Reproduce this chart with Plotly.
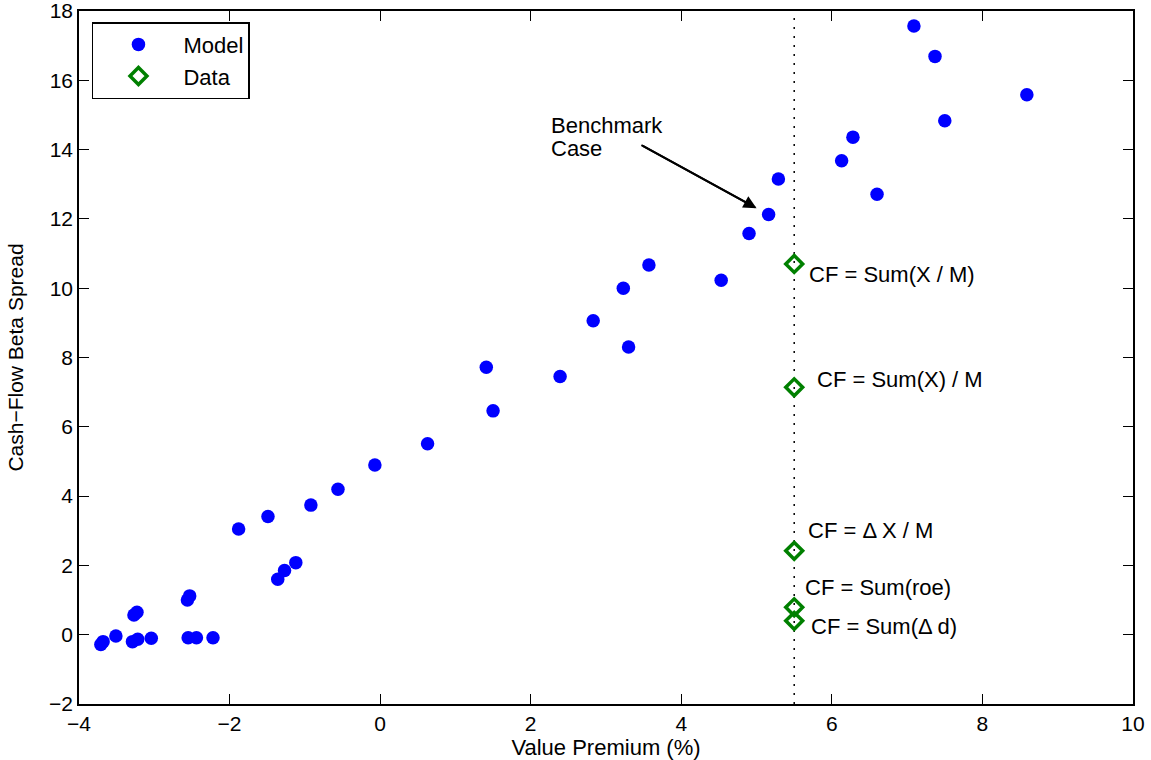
import plotly.graph_objects as go

# ---- data ----
model_x = [-3.71, -3.68, -3.51, -3.29, -3.22, -3.04, -3.27, -3.23, -2.55, -2.44,
           -2.22, -2.56, -2.53, -1.88, -1.49, -1.36, -1.27, -1.12, -0.92, -0.56,
           -0.07, 0.63, 1.41, 1.50, 2.39, 2.83, 3.23, 3.30, 3.57, 4.53,
           4.90, 5.16, 5.29, 6.13, 6.28, 6.60, 7.09, 7.37, 7.50, 8.59]
model_y = [-0.28, -0.20, -0.04, -0.20, -0.13, -0.10, 0.57, 0.65, -0.09, -0.09,
           -0.09, 1.00, 1.12, 3.05, 3.41, 1.60, 1.85, 2.08, 3.74, 4.20,
           4.90, 5.51, 7.72, 6.46, 7.45, 9.06, 10.00, 8.30, 10.67, 10.23,
           11.58, 12.13, 13.15, 13.68, 14.36, 12.71, 17.57, 16.69, 14.83, 15.58]

data_x = [5.5, 5.5, 5.5, 5.5, 5.5]
data_y = [10.70, 7.14, 2.42, 0.79, 0.40]
data_labels = ["CF = Sum(X / M)", "CF = Sum(X) / M", "CF = \u0394 X / M",
               "CF = Sum(roe)", "CF = Sum(\u0394 d)"]

benchmark_x = 5.16
benchmark_y = 12.13

x_ticks = [-4, -2, 0, 2, 4, 6, 8, 10]
y_ticks = [-2, 0, 2, 4, 6, 8, 10, 12, 14, 16, 18]

FONT = "Liberation Sans, Arial, Helvetica, sans-serif"

fig = go.Figure()

fig.add_trace(go.Scatter(
    x=model_x, y=model_y, mode="markers", name="Model",
    marker=dict(symbol="circle", size=13.5, color="#0000FF", line=dict(width=0)),
))
fig.add_trace(go.Scatter(
    x=data_x, y=data_y, mode="markers", name="Data",
    marker=dict(symbol="diamond-open", size=13, color="#008000",
                line=dict(width=3.5, color="#008000")),
))

# vertical dotted line at the data's value premium
fig.add_shape(type="line", xref="x", yref="paper", x0=data_x[0], x1=data_x[0],
              y0=0, y1=1, line=dict(color="black", width=1.5, dash="2px,7px"),
              layer="below")

# label offsets (position of each label's left-middle point, in data units)
label_dx = [0.17, 0.27, 0.15, 0.12, 0.19]
label_dy = [-0.30, 0.23, 0.60, 0.56, -0.17]
for lx, ly, txt, dx, dy in zip(data_x, data_y, data_labels, label_dx, label_dy):
    fig.add_annotation(x=lx + dx, y=ly + dy, text=txt, showarrow=False,
                       xanchor="left", yanchor="middle",
                       font=dict(family=FONT, size=22, color="black"))

# Benchmark case annotation
fig.add_annotation(x=3.47, y=14.13, ax=benchmark_x - 0.16, ay=benchmark_y + 0.18,
                   axref="x", ayref="y", text="", showarrow=True,
                   arrowhead=0, arrowwidth=2, arrowcolor="black")
fig.add_annotation(x=benchmark_x - 0.16, y=benchmark_y + 0.18, ax=3.47, ay=14.13,
                   axref="x", ayref="y", text="", showarrow=True,
                   arrowhead=2, arrowsize=1.3, arrowwidth=2, arrowcolor="black")
fig.add_annotation(x=2.24, y=14.70, text="Benchmark", showarrow=False,
                   xanchor="left", yanchor="middle",
                   font=dict(family=FONT, size=22, color="black"))
fig.add_annotation(x=2.24, y=14.04, text="Case", showarrow=False,
                   xanchor="left", yanchor="middle",
                   font=dict(family=FONT, size=22, color="black"))

axis_common = dict(
    showline=True, linecolor="black", linewidth=1.5, mirror="ticks",
    ticks="inside", ticklen=10, tickwidth=1, tickcolor="black",
    showgrid=False, zeroline=False, automargin=False,
    ticklabeloverflow="allow",
    tickfont=dict(family=FONT, size=21, color="black"),
)

fig.update_layout(
    width=1151, height=760,
    margin=dict(l=79, r=18, t=11, b=56),
    paper_bgcolor="white", plot_bgcolor="white",
    font=dict(family=FONT, size=21, color="black"),
    xaxis=dict(range=[-4, 10], tickvals=x_ticks, **axis_common,
               title=dict(text="Value Premium (%)", standoff=0,
                          font=dict(family=FONT, size=22, color="black"))),
    yaxis=dict(range=[-2, 18], tickvals=y_ticks, **axis_common,
               title=dict(text="Cash\u2212Flow Beta Spread", standoff=20,
                          font=dict(family=FONT, size=21, color="black"))),
    legend=dict(x=0.0123, y=0.984, xanchor="left", yanchor="top",
                bgcolor="white", bordercolor="black", borderwidth=1.5,
                font=dict(family=FONT, size=22, color="black"),
                itemwidth=80, tracegroupgap=0),
    showlegend=True,
)

fig.write_html("out.html",
               config={"displayModeBar": False},
               post_script="document.body.style.margin='0';"
                           "document.body.style.overflow='hidden';")
